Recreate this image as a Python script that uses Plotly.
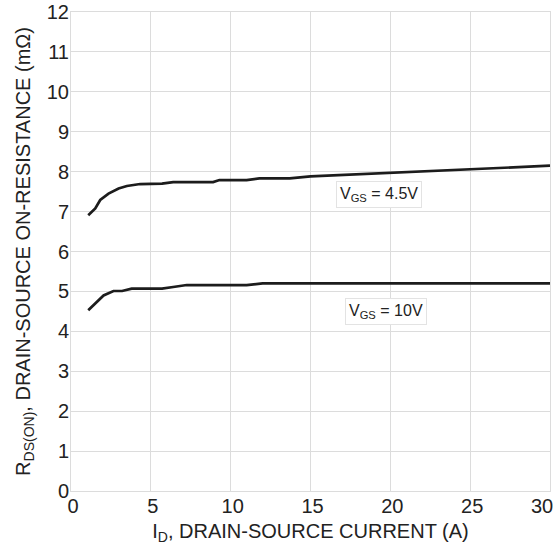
import plotly.graph_objects as go

# Data
id_45 = [1.08, 1.52, 1.83, 2.35, 2.98, 3.5, 4.33, 4.96, 5.7, 6.4, 8.9, 9.3, 11.0, 11.8, 13.7, 15.0, 20.0, 25.0, 30.0]
r_45 = [6.91, 7.08, 7.29, 7.45, 7.58, 7.64, 7.69, 7.70, 7.70, 7.74, 7.74, 7.79, 7.79, 7.83, 7.83, 7.88, 7.97, 8.06, 8.15]

id_10 = [1.08, 1.52, 2.04, 2.66, 3.2, 3.8, 5.7, 6.4, 7.25, 11.0, 12.0, 20.0, 30.0]
r_10 = [4.53, 4.70, 4.90, 5.01, 5.01, 5.07, 5.07, 5.11, 5.16, 5.16, 5.20, 5.20, 5.20]

labels = ["V<sub>GS</sub> = 4.5V", "V<sub>GS</sub> = 10V"]
label_x = [19.3, 19.7]
label_y = [7.43, 4.5]

x_ticks = [0, 5, 10, 15, 20, 25, 30]
x_ticktext = ["0", "5", "10", "15", "20", "25", "30\u2002\u2002"]
y_ticks = list(range(0, 13))

FONT = "Liberation Sans, Arial, sans-serif"
LINE = "#1c1c1c"
GRID = "#dcdcdc"

fig = go.Figure()
fig.add_trace(go.Scatter(x=id_45, y=r_45, mode="lines",
                         line=dict(color=LINE, width=2.7), showlegend=False))
fig.add_trace(go.Scatter(x=id_10, y=r_10, mode="lines",
                         line=dict(color=LINE, width=2.7), showlegend=False))

for t, xx, yy in zip(labels, label_x, label_y):
    fig.add_annotation(x=xx, y=yy, text=t, showarrow=False,
                       font=dict(family=FONT, size=16, color="#222"),
                       bgcolor="white", bordercolor="#e3e3e3", borderwidth=1,
                       borderpad=3, align="left")

fig.update_layout(
    width=557, height=545,
    margin=dict(l=71, r=7, t=12, b=54),
    plot_bgcolor="white", paper_bgcolor="white",
    font=dict(family=FONT, size=20, color="#222"),
    xaxis=dict(range=[0, 30], tickvals=x_ticks, ticktext=x_ticktext,
               showgrid=True, gridcolor=GRID,
               gridwidth=1, zeroline=False, showline=True, linecolor=GRID,
               mirror=True, ticks="", tickfont=dict(size=20),
               automargin=False, ticklabeloverflow="allow",
               ticklabelstandoff=-3, ticklabelshift=2,
               title=dict(text="I<sub>D</sub>, DRAIN-SOURCE CURRENT (A)",
                          font=dict(size=20), standoff=7)),
    yaxis=dict(range=[0, 12], tickvals=y_ticks, showgrid=True, gridcolor=GRID,
               gridwidth=1, zeroline=False, showline=True, linecolor=GRID,
               mirror=True, ticks="", tickfont=dict(size=20),
               automargin=False, ticklabeloverflow="allow", ticklabelstandoff=-3,
               title=dict(text="R<sub>DS(ON)</sub>, DRAIN-SOURCE ON-RESISTANCE (m\u03a9)",
                          font=dict(size=20), standoff=10)),
)

fig.write_html("out.html", config={"displayModeBar": False},
               post_script="document.body.style.margin='0';document.body.style.overflow='hidden';")
